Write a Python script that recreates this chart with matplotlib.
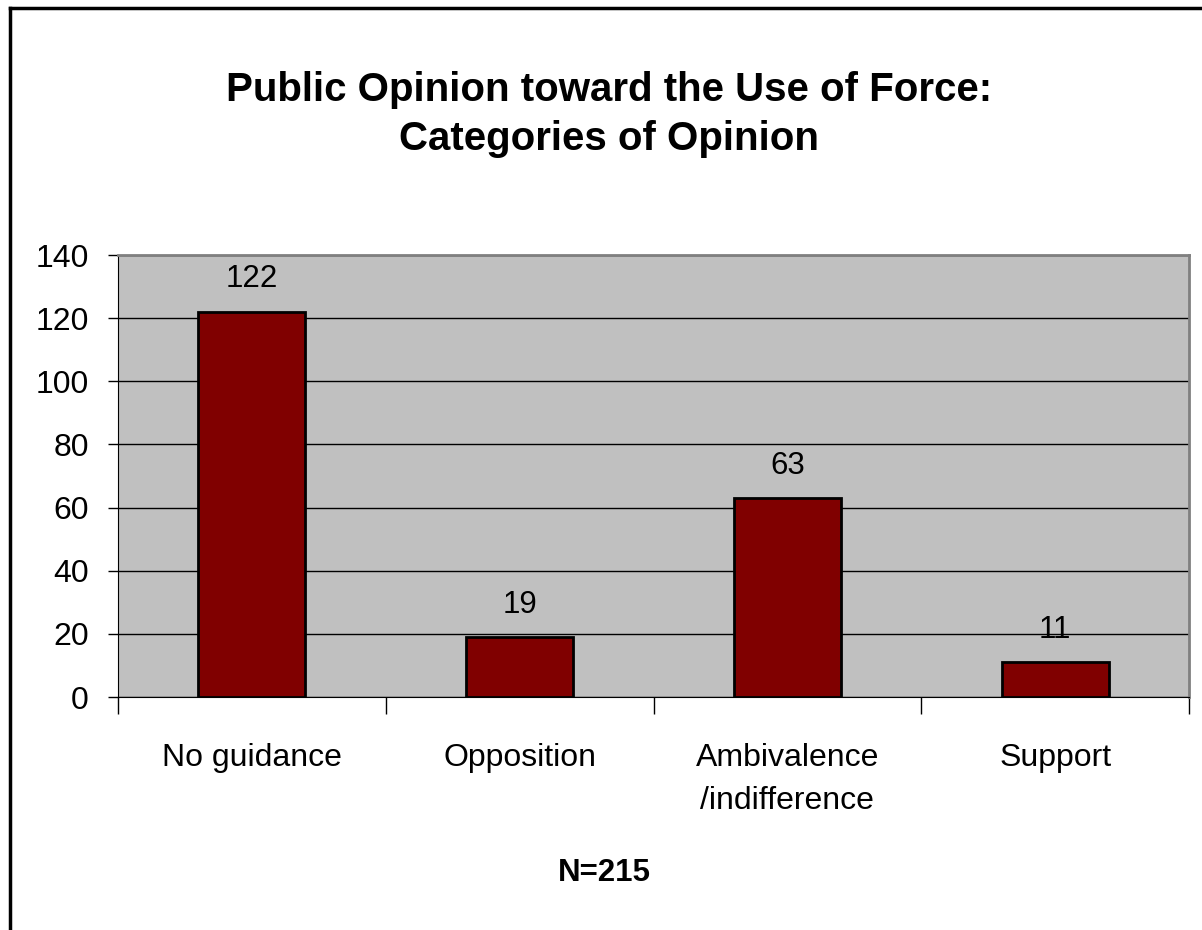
import matplotlib.pyplot as plt
from matplotlib.lines import Line2D

categorias = ["No guidance", "Opposition", "Ambivalence\n/indifference", "Support"]
valores = [122, 19, 63, 11]
yticks = [0, 20, 40, 60, 80, 100, 120, 140]

plt.rcParams["font.family"] = ["Liberation Sans", "DejaVu Sans"]

fig = plt.figure(figsize=(12.02, 9.30), dpi=100)
ax = fig.add_axes([0.0982, 0.2505, 0.891, 0.4753])
ax.set_facecolor("#c0c0c0")

x = list(range(len(categorias)))
ax.bar(x, valores, width=0.4, color="#800000", edgecolor="black", linewidth=2, zorder=3)
for xi, v in zip(x, valores):
    ax.text(xi, v + 5.5, str(v), ha="center", va="bottom", fontsize=22.5, zorder=4)

ax.set_xlim(-0.5, len(categorias) - 0.5)
ax.set_ylim(0, 140)
ax.set_yticks(yticks)
ax.set_yticklabels([str(t) for t in yticks], fontsize=23)
ax.yaxis.grid(True, color="black", linewidth=1)
ax.set_axisbelow(True)

# traços do eixo x nas fronteiras das categorias, rótulos ao centro
ax.set_xticks([i - 0.5 for i in range(len(categorias) + 1)])
ax.set_xticklabels([])
ax.set_xticks(x, minor=True)
ax.set_xticklabels(categorias, minor=True, fontsize=23, linespacing=1.55)
ax.tick_params(axis="x", which="minor", length=0, pad=33)
ax.tick_params(axis="x", which="major", length=12, width=1, direction="out")
ax.tick_params(axis="y", length=7, width=1, direction="out", pad=14)

ax.spines["top"].set_color("#808080")
ax.spines["right"].set_color("#808080")
ax.spines["top"].set_linewidth(2)
ax.spines["right"].set_linewidth(2)
ax.spines["left"].set_color("black")
ax.spines["bottom"].set_color("black")

fig.text(0.507, 0.903, "Public Opinion toward the Use of Force:", ha="center", va="center",
         fontsize=29, fontweight="bold")
fig.text(0.507, 0.850, "Categories of Opinion", ha="center", va="center",
         fontsize=29, fontweight="bold")
fig.text(0.503, 0.061, "N=215", ha="center", va="center", fontsize=22.5, fontweight="bold")

# moldura da figura (topo e esquerda)
fig.add_artist(Line2D([0.008, 0.008], [0.0, 0.991], color="black", linewidth=2.5, transform=fig.transFigure))
fig.add_artist(Line2D([0.008, 1.0], [0.991, 0.991], color="black", linewidth=2.5, transform=fig.transFigure))

fig.savefig("out.png", dpi=100)
